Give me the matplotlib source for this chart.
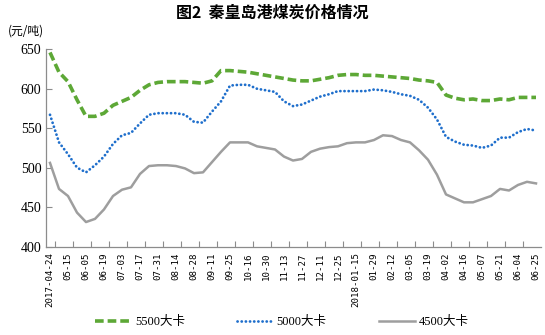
import matplotlib
matplotlib.use("Agg")
import matplotlib.pyplot as plt
import numpy as np

# ---- data ----
tick_labels = ["2017-04-24", "05-15", "06-05", "06-19", "07-03", "07-17", "07-31",
               "08-14", "08-28", "09-11", "09-25", "10-16", "10-30", "11-13",
               "11-27", "12-11", "12-25", "2018-01-15", "01-29", "02-12", "03-05",
               "03-19", "04-02", "04-16", "05-07", "05-21", "06-04", "06-25"]

p5500 = [646, 621, 609, 586, 565, 565, 569, 579, 584, 589, 598, 605, 608, 609,
         609, 609, 608, 607, 610, 623, 623, 622, 621, 619, 617, 615, 613, 611,
         610, 610, 612, 614, 617, 618, 618, 617, 617, 616, 615, 614, 613, 611,
         610, 608, 592, 588, 586, 587, 585, 585, 587, 586, 589, 589, 589]

p5000 = [567, 532, 517, 500, 494, 503, 514, 530, 541, 544, 556, 567, 569, 569,
         569, 567, 558, 557, 571, 584, 604, 605, 605, 600, 598, 596, 584, 578,
         580, 585, 590, 593, 597, 597, 597, 597, 599, 598, 596, 593, 591, 586,
         576, 561, 539, 533, 529, 528, 525, 528, 538, 538, 545, 549, 547]

p4500 = [506, 473, 464, 443, 431, 435, 447, 464, 472, 475, 492, 502, 503, 503,
         502, 499, 493, 494, 507, 520, 532, 532, 532, 527, 525, 523, 514, 509,
         511, 520, 524, 526, 527, 531, 532, 532, 535, 541, 540, 535, 532, 522,
         510, 491, 466, 461, 456, 456, 460, 464, 473, 471, 478, 482, 480]

series_names = ["5500大卡", "5000大卡", "4500大卡"]
title = "图2  秦皇岛港煤炭价格情况"
unit = "(元/吨)"

# ---- figure ----
fig = plt.figure(figsize=(5.45, 3.35), dpi=100)
ax = fig.add_axes([45.5 / 545, 1 - 246.5 / 335, (540.5 - 45.5) / 545, (246.5 - 49.3) / 335])

x = np.arange(len(p5500))
green = "#5DA836"
blue = "#1F6FCC"
gray = "#9E9E9E"

l1, = ax.plot(x, p5500, color=green, lw=2.6, linestyle=(0, (2.4, 1.1)),
              dash_capstyle="butt", label=series_names[0])
l2, = ax.plot(x, p5000, color=blue, lw=2.0, linestyle=(0, (0.05, 1.45)),
              dash_capstyle="round", label=series_names[1])
l3, = ax.plot(x, p4500, color=gray, lw=1.8, linestyle="-", label=series_names[2])

ax.set_xlim(-0.5, len(x) - 0.5)
ax.set_ylim(400, 650)

for s in ["top", "right"]:
    ax.spines[s].set_visible(False)
for s in ["left", "bottom"]:
    ax.spines[s].set_color("#8C8C8C")
    ax.spines[s].set_linewidth(0.9)

ax.set_yticks(np.arange(400, 651, 50))
ax.tick_params(axis="y", direction="in", length=4, width=0.8, color="#8C8C8C",
               pad=3, labelsize=10)
for t in ax.get_yticklabels():
    t.set_fontfamily("Liberation Serif")

major_pos = np.arange(0, len(x), 2)
ax.set_xticks(major_pos)
ax.set_xticklabels(tick_labels, rotation=90, fontsize=6.6, fontfamily="DejaVu Sans Mono")
ax.tick_params(axis="x", which="major", length=0, pad=4)
ax.set_xticks(np.arange(0.6, len(x) - 1, 2), minor=True)
ax.tick_params(axis="x", which="minor", direction="in", length=4, width=0.8, color="#8C8C8C")

fig.text(272 / 545, 1 - 13 / 335, title, ha="center", va="center", fontsize=11.5,
         family=["Noto Sans CJK SC", "DejaVu Sans"], fontweight="bold")
fig.text(26 / 545, 1 - 31 / 335, unit, ha="center", va="center", fontsize=8.5,
         family=["Noto Sans CJK SC", "DejaVu Sans"])

leg = fig.legend(handles=[l1, l2, l3], labels=series_names, loc="center",
                 bbox_to_anchor=(282 / 545, 1 - 322 / 335), ncol=3, frameon=False,
                 handlelength=2.9, handletextpad=0.25, columnspacing=4.2,
                 prop={"family": ["Liberation Serif", "Noto Sans CJK SC"], "size": 9})

fig.savefig("out.png", dpi=100)
